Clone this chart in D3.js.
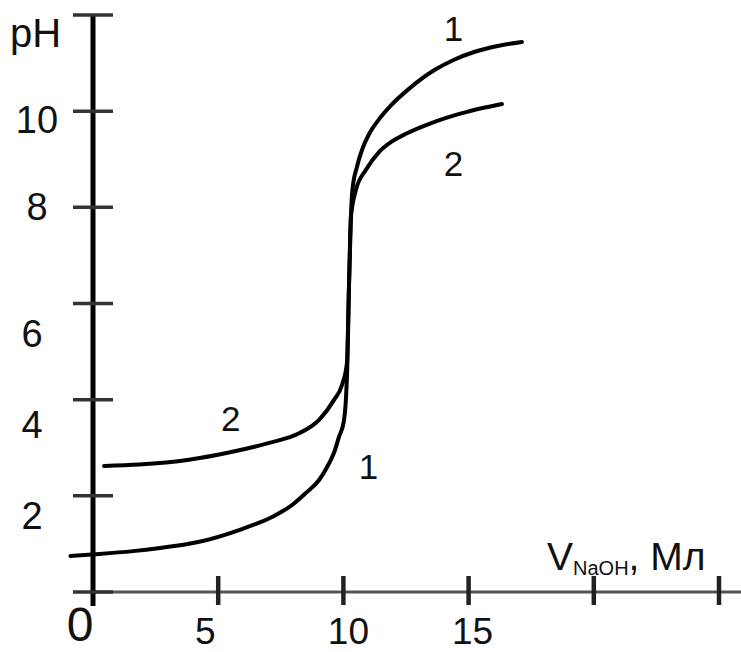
<!DOCTYPE html>
<html>
<head>
<meta charset="utf-8">
<script src="https://cdn.jsdelivr.net/npm/d3@7"></script>
<style>
  html, body { margin: 0; padding: 0; background: #fff; }
  svg { display: block; }
  text { font-family: "Liberation Sans", Arial, sans-serif; fill: #111; }
</style>
</head>
<body>
<svg id="chart" width="741" height="652"></svg>
<script>
// ---- data ----
const yTicks = [0, 2, 4, 6, 8, 10, 12];
const yTickLabels = ["", "2", "4", "6", "8", "10", "pH"];
const xTicks = [5, 10, 15, 20, 25];
const xTickLabels = ["0", "5", "10", "15"];
const xLabelValues = [0, 5, 10, 15];

// curve 1: strong acid (V NaOH, mL ; pH)
const curve1V  = [-0.9, 0.25, 1.6, 2.6, 4.2, 5.95, 7.15, 7.95, 8.5, 9.03, 9.35, 9.62, 9.82, 10.02, 10.1, 10.16, 10.22, 10.3, 10.36, 10.54, 10.74, 11.02, 11.42, 11.9, 12.7, 13.62, 14.42, 15.22, 16.21, 17.13];
const curve1pH = [0.75, 0.79, 0.85, 0.91, 1.04, 1.31, 1.56, 1.81, 2.06, 2.33, 2.6, 2.89, 3.22, 3.56, 4.0, 4.76, 6.3, 7.8, 8.36, 8.84, 9.19, 9.52, 9.83, 10.12, 10.5, 10.85, 11.07, 11.23, 11.36, 11.44];

// curve 2: weak acid
const curve2V  = [0.44, 1.84, 3.83, 5.43, 7.03, 8.23, 9.03, 9.62, 9.94, 10.14, 10.22, 10.3, 10.5, 10.9, 11.42, 11.94, 12.5, 13.3, 14.1, 14.9, 15.7, 16.33];
const curve2pH = [2.62, 2.65, 2.75, 2.9, 3.1, 3.3, 3.58, 3.99, 4.3, 4.76, 6.3, 7.8, 8.36, 8.78, 9.15, 9.37, 9.53, 9.71, 9.86, 9.98, 10.08, 10.15];

const curveLabels = ["1", "2", "2", "1"];
const curveLabelV  = [14.4, 14.4, 5.5, 11.0];
const curveLabelpH = [11.45, 8.65, 3.35, 2.35];

// ---- layout ----
const svg = d3.select("#chart");
const x = d3.scaleLinear().domain([0, 25]).range([93, 719]);
const y = d3.scaleLinear().domain([0, 12]).range([592, 15]);

// x axis line
svg.append("line")
  .attr("x1", x(0)).attr("x2", 741)
  .attr("y1", y(0)).attr("y2", y(0))
  .attr("stroke", "#555").attr("stroke-width", 3);

// y axis line
svg.append("line")
  .attr("x1", x(0)).attr("x2", x(0))
  .attr("y1", y(12)).attr("y2", y(0) + 14)
  .attr("stroke", "#000").attr("stroke-width", 5);

// y ticks
svg.selectAll(".yt").data(yTicks).enter().append("line")
  .attr("x1", x(0) - 20).attr("x2", x(0) + 20)
  .attr("y1", d => y(d)).attr("y2", d => y(d))
  .attr("stroke", "#333").attr("stroke-width", 3.5);

// x ticks
svg.selectAll(".xt").data(xTicks).enter().append("line")
  .attr("x1", d => x(d)).attr("x2", d => x(d))
  .attr("y1", y(0) - 16).attr("y2", y(0) + 13)
  .attr("stroke", "#222").attr("stroke-width", 4.5);

// y tick labels
const yLabelDx = [0, -61, -61, -61, -56, -56, -83];
const yLabelDy = [0, 33, 38, 43, 13, 22, 32];
svg.selectAll(".yl").data(yTicks).enter().append("text")
  .attr("x", (d, i) => x(0) + yLabelDx[i])
  .attr("y", (d, i) => y(d) + yLabelDy[i])
  .attr("text-anchor", (d, i) => i === 6 ? "start" : "middle")
  .attr("font-size", (d, i) => i === 6 ? 40 : 38)
  .text((d, i) => yTickLabels[i]);

// x tick labels
const xLabelDx = [-13, -13, 5, 4];
svg.selectAll(".xl").data(xLabelValues).enter().append("text")
  .attr("x", (d, i) => x(d) + xLabelDx[i])
  .attr("y", (d, i) => i === 0 ? 641 : 644)
  .attr("text-anchor", "middle")
  .attr("font-size", (d, i) => i === 0 ? 48 : 37)
  .text((d, i) => xTickLabels[i]);

// x axis title
const title = svg.append("text").attr("x", 547).attr("y", 570).attr("font-size", 39);
title.append("tspan").text("V");
title.append("tspan").attr("font-size", 20).attr("dy", 5).text("NaOH");
title.append("tspan").attr("dy", -5).text(", Мл");

// curves
const line = d3.line()
  .x(d => x(d[0]))
  .y(d => y(d[1]))
  .curve(d3.curveMonotoneX);

const c1 = curve1V.map((v, i) => [v, curve1pH[i]]);
const c2 = curve2V.map((v, i) => [v, curve2pH[i]]);

svg.selectAll(".curve").data([c1, c2]).enter().append("path")
  .attr("d", line)
  .attr("fill", "none")
  .attr("stroke", "#000")
  .attr("stroke-width", 4)
  .attr("stroke-linecap", "round");

// curve labels
svg.selectAll(".cl").data(curveLabels).enter().append("text")
  .attr("x", (d, i) => x(curveLabelV[i]))
  .attr("y", (d, i) => y(curveLabelpH[i]))
  .attr("text-anchor", "middle")
  .attr("font-size", 35)
  .text(d => d);
</script>
</body>
</html>
